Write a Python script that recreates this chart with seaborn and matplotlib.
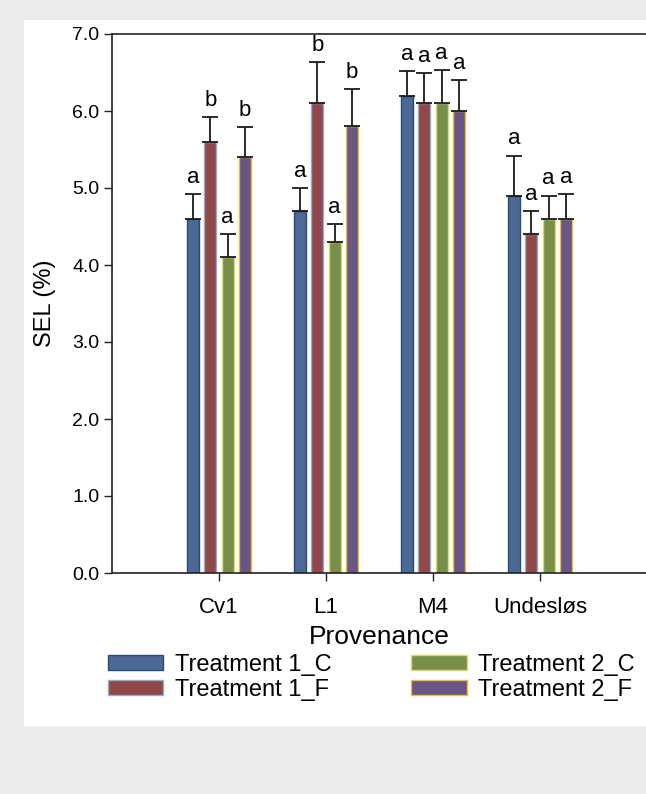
import numpy as np
import pandas as pd
import seaborn as sns
import matplotlib.pyplot as plt
from matplotlib.patches import Rectangle

provenance = ['Cv1', 'L1', 'M4', 'Undesløs']
treatments = ['Treatment 1_C', 'Treatment 1_F', 'Treatment 2_C', 'Treatment 2_F']

# means (SEL %) per provenance, one list per treatment
sel_t1c = [4.6, 4.7, 6.2, 4.9]
sel_t1f = [5.6, 6.1, 6.1, 4.4]
sel_t2c = [4.1, 4.3, 6.1, 4.6]
sel_t2f = [5.4, 5.8, 6.0, 4.6]

# upper error bar lengths
err_t1c = [0.32, 0.30, 0.32, 0.52]
err_t1f = [0.32, 0.53, 0.39, 0.30]
err_t2c = [0.30, 0.23, 0.43, 0.30]
err_t2f = [0.39, 0.48, 0.40, 0.32]

# significance letters
let_t1c = ['a', 'a', 'a', 'a']
let_t1f = ['b', 'b', 'a', 'a']
let_t2c = ['a', 'a', 'a', 'a']
let_t2f = ['b', 'b', 'a', 'a']

colors = ['#3f68a1', '#9e3c3c', '#7c9a41', '#694f89']
edges = ['#2b4a78', '#8ab0d6', '#d8dc70', '#e2c040']

vals = [sel_t1c, sel_t1f, sel_t2c, sel_t2f]
errs = [err_t1c, err_t1f, err_t2c, err_t2f]
lets = [let_t1c, let_t1f, let_t2c, let_t2f]

rows = []
for t, v in zip(treatments, vals):
    for p, s in zip(provenance, v):
        rows.append({'Provenance': p, 'Treatment': t, 'SEL': s})
df = pd.DataFrame(rows)

sns.set_style('ticks')
plt.rcParams['font.family'] = ['Liberation Sans', 'DejaVu Sans']
plt.rcParams['text.color'] = 'black'
plt.rcParams['axes.labelcolor'] = 'black'
plt.rcParams['xtick.color'] = 'black'
plt.rcParams['ytick.color'] = 'black'

fig = plt.figure(figsize=(6.46, 7.94), dpi=100, facecolor='#ececec')
fig.patches.append(Rectangle((24 / 646, (794 - 726) / 794), 1.0, (726 - 20) / 794,
                             transform=fig.transFigure, facecolor='white',
                             edgecolor='none', zorder=-1))
ax = fig.add_axes([112 / 646, (794 - 573) / 794, 535 / 646, 539 / 794])
ax.set_facecolor('white')

sns.barplot(data=df, x='Provenance', y='SEL', hue='Treatment', hue_order=treatments,
            palette=colors, width=0.654, gap=0.31, errorbar=None, legend=False,
            linewidth=1.0, ax=ax)

bar_conts = list(ax.containers)
for cont, ec, e, lt in zip(bar_conts, edges, errs, lets):
    xs = []
    tops = []
    for bar in cont:
        bar.set_edgecolor(ec)
        xs.append(bar.get_x() + bar.get_width() / 2)
        tops.append(bar.get_height())
    xs = np.array(xs)
    tops = np.array(tops)
    ax.errorbar(xs, tops, yerr=[np.zeros(len(e)), e], fmt='none', ecolor='#1a1a1a',
                elinewidth=1.3, capsize=5.5, capthick=1.3, zorder=3)
    for x, top, ee, l in zip(xs, tops, e, lt):
        ax.annotate(l, (x, top + ee), xytext=(0, 4.5), textcoords='offset points',
                    ha='center', va='bottom', fontsize=16, color='black')

ax.set_xlim(-1, 4)
ax.set_ylim(0, 7)
ax.set_yticks(np.arange(0, 7.01, 1.0))
ax.set_yticklabels([f'{v:.1f}' for v in np.arange(0, 7.01, 1.0)], fontsize=14)
ax.tick_params(axis='x', labelsize=16, length=6, width=1, color='#222222', pad=11)
ax.tick_params(axis='y', length=6, width=1, color='#222222', pad=3)
ax.set_xlabel('Provenance', fontsize=19, labelpad=5)
ax.set_ylabel('SEL (%)', fontsize=17, labelpad=12)
for s in ['left', 'top', 'bottom']:
    ax.spines[s].set_color('#222222')
    ax.spines[s].set_linewidth(1.2)
ax.spines['right'].set_visible(False)

handles = [cont.patches[0] for cont in bar_conts]
fig.legend(handles, treatments, ncol=2, loc='upper left',
           bbox_to_anchor=(108 / 646, 1 - 654 / 794), frameon=False, fontsize=17,
           handlelength=2.35, handleheight=0.6, handletextpad=0.5, columnspacing=3.35,
           labelspacing=0.12, borderpad=0, borderaxespad=0)

fig.savefig('out.png', dpi=100, facecolor=fig.get_facecolor())
